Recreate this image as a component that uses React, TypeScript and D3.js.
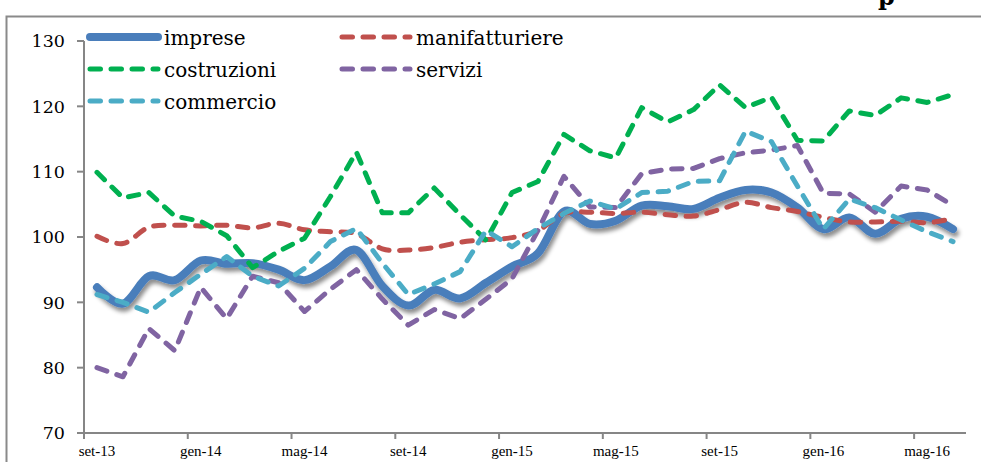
import React from 'react';
import * as d3 from 'd3';

// months on the x axis (set-13 .. giu-16)
const months = [
  'set-13', 'ott-13', 'nov-13', 'dic-13',
  'gen-14', 'feb-14', 'mar-14', 'apr-14', 'mag-14', 'giu-14', 'lug-14', 'ago-14', 'set-14', 'ott-14', 'nov-14', 'dic-14',
  'gen-15', 'feb-15', 'mar-15', 'apr-15', 'mag-15', 'giu-15', 'lug-15', 'ago-15', 'set-15', 'ott-15', 'nov-15', 'dic-15',
  'gen-16', 'feb-16', 'mar-16', 'apr-16', 'mag-16', 'giu-16',
];

const yTicks = [70, 80, 90, 100, 110, 120, 130];

const imprese = [92.3, 89.8, 94.0, 93.4, 96.4, 95.9, 96.0, 95.0, 93.4, 95.5, 98.0, 92.5, 89.5, 91.9, 90.6, 93.0, 95.5,
  97.5, 103.9, 102.0, 102.5, 104.8, 104.7, 104.3, 106.0, 107.2, 106.8, 104.5, 101.2, 103.0, 100.5, 102.8, 103.1, 101.2];
const manifatturiere = [100.1, 99.0, 101.5, 101.8, 101.7, 101.8, 101.4, 102.1, 101.1, 100.8, 100.5, 98.2, 98.0, 98.4, 99.2,
  99.6, 99.9, 101.0, 103.6, 103.8, 103.6, 103.8, 103.4, 103.2, 104.2, 105.3, 104.5, 103.9, 103.0, 102.3, 102.3, 102.4, 102.2, 102.8];
const costruzioni = [109.9, 106.0, 106.8, 103.2, 102.4, 100.2, 95.3, 97.8, 99.8, 106.2, 113.0, 103.7, 103.7, 107.5, 103.4,
  99.5, 106.8, 108.5, 115.7, 113.2, 112.1, 119.8, 117.6, 119.5, 123.3, 119.8, 121.4, 114.8, 114.7, 119.3, 118.6, 121.3, 120.6, 121.8];
const servizi = [80.0, 78.6, 86.0, 82.6, 92.3, 87.5, 94.0, 93.0, 88.6, 92.0, 95.0, 90.5, 86.5, 88.9, 87.5, 90.5, 93.6,
  101.0, 109.3, 104.6, 104.5, 109.7, 110.4, 110.5, 112.0, 112.9, 113.3, 114.0, 106.7, 106.6, 103.8, 107.8, 107.2, 104.8];
const commercio = [91.2, 90.0, 88.5, 91.5, 94.3, 97.0, 94.0, 92.5, 95.2, 99.3, 101.3, 96.0, 91.2, 92.8, 94.7, 101.0, 98.5,
  101.3, 103.6, 105.5, 104.3, 106.8, 107.0, 108.5, 108.6, 116.2, 114.6, 107.8, 101.2, 105.8, 104.5, 102.6, 100.8, 99.3];

const series = [
  { name: 'imprese', values: imprese, color: '#4a7ebb', dashed: false, smooth: true },
  { name: 'manifatturiere', values: manifatturiere, color: '#c0504d', dashed: true, smooth: true },
  { name: 'costruzioni', values: costruzioni, color: '#00b050', dashed: true, smooth: false },
  { name: 'servizi', values: servizi, color: '#8064a2', dashed: true, smooth: false },
  { name: 'commercio', values: commercio, color: '#4bacc6', dashed: true, smooth: false },
];

const W = 981;
const H = 462;
const left = 84;
const right = 966;
const top = 41;
const bottom = 433;

export default function App() {
  const x = d3.scaleBand<string>().domain(months).range([left, right]).padding(0);
  const y = d3.scaleLinear().domain([70, 130]).range([bottom, top]);
  const cx = (i: number) => (x(months[i]) as number) + x.bandwidth() / 2;

  const lineFor = (smooth: boolean) =>
    d3.line<number>()
      .x((_, i) => cx(i))
      .y((d) => y(d))
      .curve(smooth ? d3.curveCardinal.tension(0) : d3.curveLinear);

  const labelIdx = months.map((_, i) => i).filter((i) => i % 4 === 0);

  // legend slots: two columns, row-wise order
  const legendPos = [
    { x: 88, y: 37 }, { x: 340, y: 37 },
    { x: 88, y: 69 }, { x: 340, y: 69 },
    { x: 88, y: 101 },
  ];

  return (
    <svg width={W} height={H} style={{ position: 'absolute', left: 0, top: 0, background: '#fff' }}>
      <defs>
        <filter id="shadow" x="-5%" y="-10%" width="110%" height="130%">
          <feDropShadow dx="2" dy="4" stdDeviation="2.2" floodColor="#000" floodOpacity="0.45" />
        </filter>
      </defs>
      <text x={878} y={5} fontFamily="'DejaVu Serif', serif" fontWeight="bold" fontSize={24} fill="#000">p</text>
      <rect x={6.5} y={16.5} width={1000} height={500} fill="none" stroke="#8a8a8a" strokeWidth={2} />

      {/* y axis */}
      <line x1={left} x2={left} y1={top} y2={bottom} stroke="#868686" strokeWidth={2} />
      {yTicks.map((t) => (
        <g key={t}>
          <line x1={left - 7} x2={left} y1={y(t)} y2={y(t)} stroke="#868686" strokeWidth={2} />
          <text x={65} y={y(t)} dy="0.36em" textAnchor="end" fontFamily="'DejaVu Serif', serif" fontSize={17.5} fill="#000">
            {t}
          </text>
        </g>
      ))}

      {/* x axis */}
      <line x1={left} x2={right} y1={bottom} y2={bottom} stroke="#868686" strokeWidth={2} />
      {labelIdx.map((i) => (
        <g key={months[i]}>
          <line x1={x(months[i])} x2={x(months[i])} y1={bottom} y2={bottom + 6} stroke="#868686" strokeWidth={2} />
          <text x={cx(i)} y={456} textAnchor="middle" fontFamily="'Liberation Serif', serif" fontSize={15} fill="#000">
            {months[i]}
          </text>
        </g>
      ))}

      {/* series */}
      {series.map((s) => (
        <path
          key={s.name}
          d={lineFor(s.smooth)(s.values) || ''}
          fill="none"
          stroke={s.color}
          strokeWidth={s.dashed ? 5 : 8}
          strokeLinecap="round"
          strokeLinejoin="round"
          strokeDasharray={s.dashed ? '10.5 10.5' : undefined}
          filter={s.dashed ? undefined : 'url(#shadow)'}
        />
      ))}

      {/* legend */}
      {series.map((s, k) => (
        <g key={s.name} transform={`translate(${legendPos[k].x},${legendPos[k].y})`}>
          <line
            x1={2}
            x2={70}
            y1={0}
            y2={0}
            stroke={s.color}
            strokeWidth={s.dashed ? 5 : 8}
            strokeLinecap="round"
            strokeDasharray={s.dashed ? '10.5 10.5' : undefined}
          />
          <text x={76} y={8} fontFamily="'DejaVu Serif', serif" fontSize={20} fill="#000">
            {s.name}
          </text>
        </g>
      ))}
    </svg>
  );
}
